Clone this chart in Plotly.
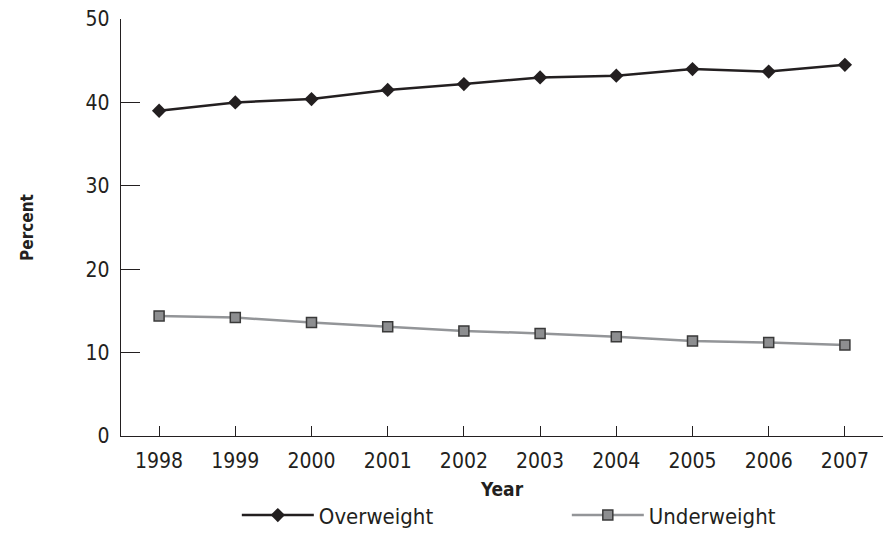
import plotly.graph_objects as go

years = [1998, 1999, 2000, 2001, 2002, 2003, 2004, 2005, 2006, 2007]
overweight = [39.0, 40.0, 40.4, 41.5, 42.2, 43.0, 43.2, 44.0, 43.7, 44.5]
underweight = [14.4, 14.2, 13.6, 13.1, 12.6, 12.3, 11.9, 11.4, 11.2, 10.9]
y_ticks = [0, 10, 20, 30, 40, 50]

FONT = "DejaVu Sans Condensed, Liberation Sans Narrow, sans-serif"
INK = "#231f20"

fig = go.Figure()
fig.add_trace(go.Scatter(
    x=years, y=overweight, name="Overweight", mode="lines+markers",
    line=dict(color=INK, width=2.5),
    marker=dict(symbol="diamond", size=11, color=INK, line=dict(width=0)),
))
fig.add_trace(go.Scatter(
    x=years, y=underweight, name="Underweight", mode="lines+markers",
    line=dict(color="#939598", width=2.5),
    marker=dict(symbol="square", size=10, color="#8d8e90", line=dict(width=1.5, color="#3a3a3a")),
))

fig.update_layout(
    width=887, height=557,
    margin=dict(l=121, r=4, t=19, b=121, autoexpand=False),
    paper_bgcolor="white", plot_bgcolor="white",
    font=dict(family=FONT, color=INK, size=21),
    showlegend=True,
    legend=dict(
        orientation="h", x=0.152, xanchor="left", y=-0.19, yanchor="middle",
        font=dict(size=22, family=FONT, color=INK),
        itemwidth=72, entrywidth=243, entrywidthmode="pixels",
        bgcolor="rgba(0,0,0,0)",
    ),
    xaxis=dict(
        range=[1997.5, 2007.5], tickvals=years, ticktext=[str(y) for y in years],
        showgrid=False, zeroline=False, showline=True, linecolor=INK, linewidth=1.3,
        ticks="inside", ticklen=10, tickwidth=1.3, tickcolor=INK,
        tickfont=dict(size=21, family=FONT, color=INK), ticklabelstandoff=6,
        title=dict(text="<b>Year</b>", font=dict(size=19, family=FONT, color=INK), standoff=10),
        fixedrange=True,
    ),
    yaxis=dict(
        range=[0, 50], tickvals=y_ticks,
        showgrid=False, zeroline=False, showline=True, linecolor=INK, linewidth=1.3,
        ticks="inside", ticklen=19, tickwidth=1.3, tickcolor=INK,
        tickfont=dict(size=21, family=FONT, color=INK), ticklabelstandoff=6,
        title=dict(text="<b>Percent</b>", font=dict(size=17, family=FONT, color=INK), standoff=47),
        fixedrange=True,
    ),
)

fig.write_html("out.html", config={"displayModeBar": False},
               post_script="document.body.style.margin='0';")
